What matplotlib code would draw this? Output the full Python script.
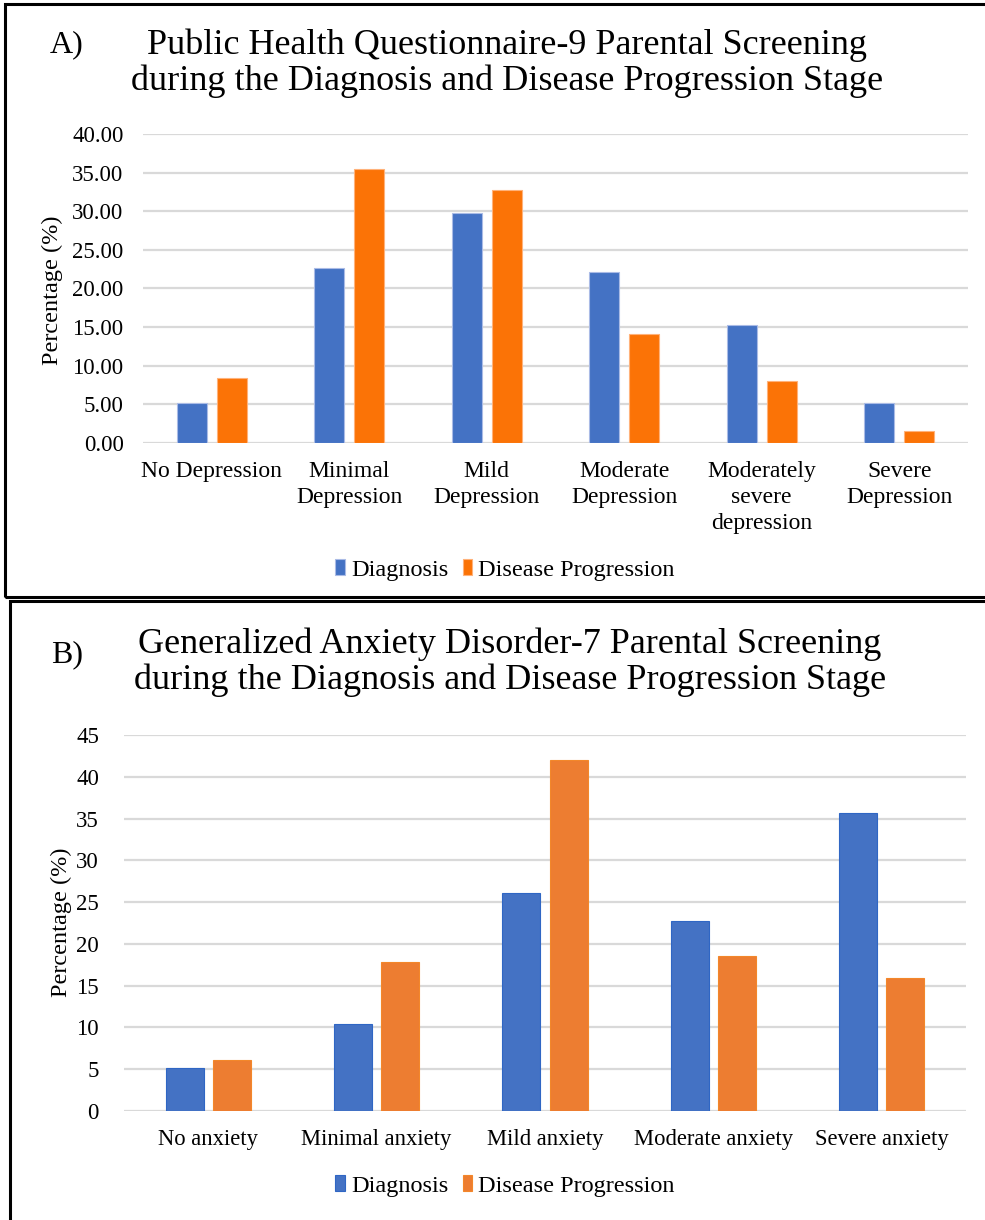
import matplotlib
matplotlib.use('Agg')
import matplotlib.pyplot as plt
from matplotlib.patches import Rectangle
import numpy as np

# Panel A - PHQ-9
phq_labels = ['No Depression', 'Minimal\nDepression', 'Mild\nDepression',
              'Moderate\nDepression', 'Moderately\nsevere\ndepression', 'Severe\nDepression']
phq_diagnosis = [5.19, 22.70, 29.80, 22.20, 15.30, 5.20]
phq_progression = [8.44, 35.45, 32.75, 14.10, 8.00, 1.56]
phq_ticks = [0, 5, 10, 15, 20, 25, 30, 35, 40]

# Panel B - GAD-7
gad_labels = ['No anxiety', 'Minimal anxiety', 'Mild anxiety', 'Moderate anxiety', 'Severe anxiety']
gad_diagnosis = [5.2, 10.4, 26.1, 22.7, 35.7]
gad_progression = [6.1, 17.8, 42.0, 18.6, 15.9]
gad_ticks = [0, 5, 10, 15, 20, 25, 30, 35, 40, 45]

series_names = ['Diagnosis', 'Disease Progression']

plt.rcParams['font.family'] = ['Liberation Serif', 'DejaVu Serif']

W, H = 985, 1220
fig = plt.figure(figsize=(W / 100, H / 100), dpi=100)


def fx(px):
    return px / W


def fy(py):
    return 1 - py / H


def bar_panel(ax, labels, d1, d2, ticks, fmt, colors, edges, off, width,
              tickpad, ticksize, labsize):
    x = np.arange(len(labels))
    ax.bar(x - off, d1, width, color=colors[0], edgecolor=edges[0], linewidth=0.8,
           label=series_names[0], zorder=3)
    ax.bar(x + off, d2, width, color=colors[1], edgecolor=edges[1], linewidth=0.8,
           label=series_names[1], zorder=3)
    ax.set_xlim(-0.5, len(labels) - 0.5)
    ax.set_ylim(0, ticks[-1])
    ax.set_yticks(ticks)
    ax.set_yticklabels([fmt.format(t) for t in ticks], fontsize=ticksize)
    ax.set_xticks(x)
    ax.set_xticklabels(labels, linespacing=1.3, fontsize=labsize)
    ax.grid(axis='y', color='#d9d9d9', linewidth=1.6, zorder=0)
    for s in ax.spines.values():
        s.set_visible(False)
    ax.tick_params(axis='both', length=0)
    ax.tick_params(axis='y', pad=tickpad)
    ax.tick_params(axis='x', pad=13)
    ax.set_axisbelow(True)


def legend(ax, ypx):
    ax.legend(loc='center', bbox_to_anchor=(fx(505), fy(ypx)), bbox_transform=fig.transFigure,
              ncol=2, frameon=False, fontsize=17.5, handlelength=0.4, handleheight=0.6,
              handletextpad=0.25, columnspacing=0.6)


# ---- panel A ----
axA = fig.add_axes([fx(143), fy(443), fx(968 - 143), (443 - 134) / H])
bar_panel(axA, phq_labels, phq_diagnosis, phq_progression, phq_ticks, '{:.2f}',
          ['#4472c4', '#fb7306'], ['#aabbe6', '#ffb27a'], 0.145, 0.22, 14, 16.5, 17)
fig.text(fx(52), fy(290), 'Percentage (%)', rotation=90, fontsize=17.5,
         ha='center', va='center')
fig.text(fx(67), fy(45), 'A)', fontsize=23, ha='center', va='center')
fig.text(fx(507), fy(63), 'Public Health Questionnaire-9 Parental Screening\n'
         'during the Diagnosis and Disease Progression Stage',
         fontsize=26, ha='center', va='center', linespacing=1.08)
legend(axA, 570)

# ---- panel B ----
axB = fig.add_axes([fx(124), fy(1111), fx(966 - 124), (1111 - 735) / H])
bar_panel(axB, gad_labels, gad_diagnosis, gad_progression, gad_ticks, '{:d}',
          ['#4472c4', '#ed7d31'], ['#2f66c4', '#f3872a'], 0.14, 0.225, 18, 16.5, 16.3)
fig.text(fx(61), fy(922), 'Percentage (%)', rotation=90, fontsize=17.5,
         ha='center', va='center')
fig.text(fx(67), fy(655), 'B)', fontsize=23, ha='center', va='center')
fig.text(fx(510), fy(662), 'Generalized Anxiety Disorder-7 Parental Screening\n'
         'during the Diagnosis and Disease Progression Stage',
         fontsize=26, ha='center', va='center', linespacing=1.1)
legend(axB, 1186)

# panel frames
fig.patches.append(Rectangle((fx(5), fy(597)), fx(1100), (597 - 4) / H, fill=False,
                             edgecolor='black', linewidth=2.2, transform=fig.transFigure))
fig.patches.append(Rectangle((fx(10), fy(1260)), fx(1100), (1260 - 601) / H, fill=False,
                             edgecolor='black', linewidth=2.2, transform=fig.transFigure))

plt.savefig('out.png', dpi=100)
